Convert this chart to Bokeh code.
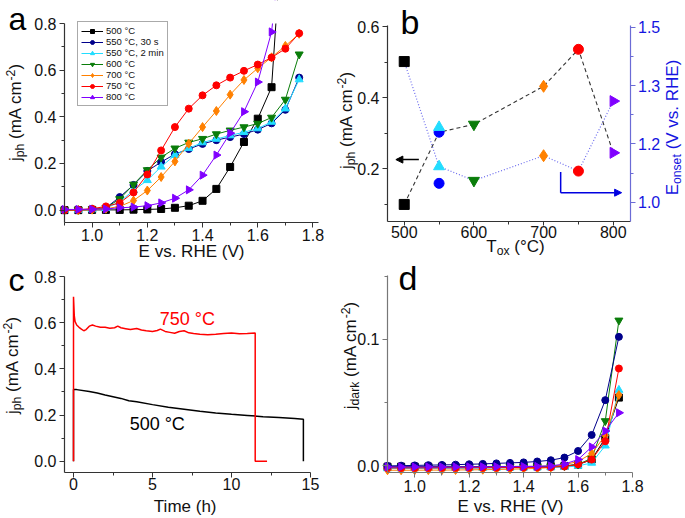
import math
from bokeh.plotting import figure
from bokeh.models import (Range1d, LinearAxis, FixedTicker, NumeralTickFormatter, Label,
                          Legend, LegendItem, Arrow, NormalHead)
from bokeh.layouts import row, column
from bokeh.embed import file_html
from bokeh.resources import INLINE

FONT = "Liberation Sans"
NaN = float("nan")

# ---------------- data ----------------
samples = ["500 °C", "550 °C, 30 s", "550 °C, 2 min", "600 °C", "700 °C", "750 °C", "800 °C"]

# panel a: photocurrent vs potential
E_a = [0.90, 0.95, 1.00, 1.05, 1.10, 1.15, 1.20, 1.25, 1.30, 1.35, 1.40, 1.45, 1.50, 1.55, 1.60, 1.65, 1.70, 1.75]
a_500 = [0.000, 0.000, 0.001, 0.001, 0.001, 0.002, 0.003, 0.005, 0.010, 0.019, 0.040, 0.091, 0.185, 0.292, 0.392, 0.527, 1.400, NaN]
a_550a = [0.000, 0.001, 0.004, 0.010, 0.056, 0.108, 0.168, 0.206, 0.240, 0.262, 0.284, 0.300, 0.313, 0.326, 0.345, 0.372, 0.430, 0.568]
a_550b = [0.000, 0.001, 0.003, 0.008, 0.035, 0.085, 0.128, 0.186, 0.236, 0.265, 0.290, 0.305, 0.320, 0.334, 0.350, 0.378, 0.435, 0.560]
a_600 = [0.000, 0.001, 0.004, 0.010, 0.048, 0.110, 0.172, 0.226, 0.265, 0.290, 0.306, 0.326, 0.342, 0.356, 0.371, 0.397, 0.474, 0.668]
a_700 = [0.000, 0.000, 0.002, 0.006, 0.016, 0.041, 0.084, 0.142, 0.209, 0.285, 0.356, 0.425, 0.495, 0.558, 0.608, 0.655, 0.704, 0.756]
a_750 = [0.000, 0.002, 0.006, 0.016, 0.031, 0.076, 0.153, 0.256, 0.356, 0.435, 0.492, 0.535, 0.568, 0.597, 0.624, 0.654, 0.692, 0.758]
a_800 = [0.003, 0.003, 0.004, 0.005, 0.010, 0.013, 0.019, 0.031, 0.051, 0.087, 0.150, 0.236, 0.330, 0.422, 0.549, 0.764, 1.300, NaN]
a_series = [a_500, a_550a, a_550b, a_600, a_700, a_750, a_800]

# panel b: j_ph (left axis) and E_onset (right axis) vs oxidation temperature
T_b = [500, 550, 550, 600, 700, 750, 800]
jph_b = [0.100, 0.303, 0.317, 0.325, 0.432, 0.536, 0.245]
Eon_b = [1.402, 1.054, 1.102, 1.062, 1.133, 1.089, 1.289]
jph_line_idx = [0, 1, 3, 4, 5, 6]
Eon_line_idx = [0, 2, 3, 4, 5, 6]
arrow_left_x = [521, 488]
arrow_left_y = [0.226, 0.226]
arrow_right_x = [724.5, 724.5, 812]
arrow_right_y = [0.191, 0.133, 0.133]

# panel c: stability
t_750 = [0, 0, 0.05, 0.1, 0.2, 0.35, 0.5, 0.65, 0.8, 1.0, 1.2, 1.4, 1.7, 2.0, 2.3, 2.6, 2.8, 3.0, 3.3, 3.6,
         4.0, 4.3, 4.6, 5.0, 5.3, 5.5, 5.8, 6.1, 6.4, 6.7, 7.0, 7.3, 7.6, 8.0, 8.5, 9.0, 9.5, 10.0, 10.5,
         11.0, 11.5, 11.5, 12.25]
j_750 = [0, 0.712, 0.630, 0.605, 0.590, 0.580, 0.572, 0.565, 0.570, 0.585, 0.590, 0.585, 0.580, 0.580,
         0.576, 0.578, 0.585, 0.578, 0.574, 0.570, 0.575, 0.568, 0.565, 0.562, 0.566, 0.572, 0.562, 0.558,
         0.554, 0.562, 0.565, 0.556, 0.553, 0.550, 0.548, 0.550, 0.553, 0.555, 0.552, 0.553, 0.555, 0.0, 0.0]
t_500 = [0, 0, 0.2, 1.0, 1.5, 2.0, 3.0, 3.5, 4.0, 5.0, 6.0, 7.0, 8.0, 9.0, 10.0, 11.0, 12.0, 13.0, 14.0, 14.55, 14.55]
j_500 = [0, 0.310, 0.310, 0.302, 0.295, 0.287, 0.272, 0.262, 0.257, 0.245, 0.234, 0.225, 0.216, 0.209,
         0.203, 0.198, 0.193, 0.189, 0.185, 0.182, 0.0]
c_text_750 = (7.2, 0.616)
c_text_500 = (5.3, 0.163)

# panel d: dark current
E_d = E_a
d_500 = [-0.0006, -0.0006, -0.0006, -0.0006, -0.0006, -0.0006, -0.0005, -0.0005, -0.0005, -0.0004, -0.0004, -0.0003, -0.0002, 0.0000, 0.0010, 0.0050, 0.0220, 0.0540]
d_550a = [0.0000, 0.0002, 0.0004, 0.0006, 0.0008, 0.0010, 0.0013, 0.0016, 0.0020, 0.0024, 0.0028, 0.0035, 0.0045, 0.0066, 0.0118, 0.0245, 0.0520, 0.1020]
d_550b = [-0.0020, -0.0020, -0.0020, -0.0019, -0.0019, -0.0018, -0.0018, -0.0017, -0.0016, -0.0015, -0.0014, -0.0013, -0.0012, -0.0010, 0.0000, 0.0024, 0.0160, 0.0600]
d_600 = [-0.0010, -0.0010, -0.0010, -0.0010, -0.0010, -0.0009, -0.0009, -0.0008, -0.0008, -0.0007, -0.0006, -0.0005, -0.0004, 0.0000, 0.0012, 0.0060, 0.0355, 0.1150]
d_700 = [-0.0034, -0.0034, -0.0034, -0.0033, -0.0033, -0.0032, -0.0031, -0.0030, -0.0028, -0.0026, -0.0023, -0.0020, -0.0012, 0.0010, 0.0035, 0.0098, 0.0240, 0.0560]
d_750 = [-0.0016, -0.0016, -0.0016, -0.0016, -0.0015, -0.0015, -0.0015, -0.0014, -0.0014, -0.0013, -0.0012, -0.0011, -0.0010, -0.0005, 0.0012, 0.0050, 0.0195, 0.0770]
d_800 = [-0.0008, -0.0008, -0.0008, -0.0008, -0.0008, -0.0008, -0.0007, -0.0007, -0.0006, -0.0006, -0.0005, -0.0004, 0.0000, 0.0015, 0.0050, 0.0150, 0.0276, 0.0420]
d_series = [d_500, d_550a, d_550b, d_600, d_700, d_750, d_800]

# ---------------- styles ----------------
colors = ["#000000", "#00008B", "#22DDFF", "#0A7D0A", "#FF8000", "#FF0000", "#8000FF"]
colors_b = ["#000000", "#0000FF", "#22DDFF", "#0A7D0A", "#FF8000", "#FF0000", "#8000FF"]
markers = ["square", "circle", "triangle", "inverted_triangle", "diamond", "circle", "triangle"]
m_angles = [0, 0, 0, 0, 0, 0, -math.pi / 2]
m_sizes = [7, 7, 8, 8, 9, 7, 8]
AX = "#333333"
TXT = "#111111"

CW = {' ': 0.278, '(': 0.333, ')': 0.333, '-': 0.333, '.': 0.278, '°': 0.4, ',': 0.278,
      'A': 0.667, 'C': 0.722, 'E': 0.667, 'H': 0.722, 'R': 0.722, 'T': 0.611, 'V': 0.667,
      'a': 0.556, 'c': 0.5, 'd': 0.556, 'e': 0.556, 'h': 0.556, 'i': 0.222, 'j': 0.222,
      'k': 0.5, 'm': 0.833, 'n': 0.556, 'o': 0.556, 'p': 0.556, 'r': 0.333, 's': 0.5,
      't': 0.278, 'v': 0.5, 'x': 0.5}


def text_w(s, size):
    return sum(CW.get(ch, 0.556) for ch in s) * size


def full_range(d0, d1, p0, p1, c0, c1):
    # data d0 sits at pixel p0 and d1 at p1; return the data values at canvas pixels c0, c1
    k = (d1 - d0) / (p1 - p0)
    return (d0 + (c0 - p0) * k, d0 + (c1 - p0) * k)


class Geo:
    def __init__(self, ox, oy, w, h):
        self.ox, self.oy, self.w, self.h = ox, oy, w, h

    def cx(self, sx):
        return sx - self.ox

    def cy(self, sy):
        return self.oy + self.h - sy


def make_fig(g, xd, xpix, yd, ypix):
    xr = full_range(xd[0], xd[1], xpix[0], xpix[1], g.ox, g.ox + g.w)
    yr = full_range(yd[0], yd[1], -ypix[0], -ypix[1], -(g.oy + g.h), -g.oy)
    p = figure(width=g.w, height=g.h, x_range=Range1d(*xr), y_range=Range1d(*yr),
               output_backend="svg", toolbar_location=None, title=None,
               min_border_left=0, min_border_right=0, min_border_top=0, min_border_bottom=0)
    p.outline_line_color = None
    p.xgrid.visible = False
    p.ygrid.visible = False
    p.background_fill_color = "white"
    p.border_fill_color = "white"
    p.xaxis[0].fixed_location = yd[0]
    p.xaxis[0].bounds = xd
    p.yaxis[0].fixed_location = xd[0]
    p.yaxis[0].bounds = yd
    return p


def rich_label(p, g, sx, sy, parts, vertical=False, color=TXT, F=17):
    # sx, sy: centre of the whole label in page pixels
    cx, cy = g.cx(sx), g.cy(sy)
    sized = []
    tot = 0.0
    for t, kind in parts:
        s = F if kind == "n" else F * 0.72
        sh = {"n": 0.0, "sub": -0.25 * F, "sup": 0.30 * F}[kind]
        sized.append((t, s, sh))
        tot += text_w(t, s)
    pos = -tot / 2
    for t, s, sh in sized:
        stripped = t.lstrip()
        pos += text_w(t[:len(t) - len(stripped)], s)
        if vertical:
            x, y, ang = cx - sh, cy + pos, math.pi / 2
        else:
            x, y, ang = cx + pos, cy + sh, 0
        p.add_layout(Label(x=x, y=y, x_units="screen", y_units="screen", text=stripped, angle=ang,
                           text_align="left", text_baseline="middle", text_font=FONT,
                           text_font_size=f"{s:.1f}px", text_color=color))
        pos += text_w(stripped, s)


def panel_letter(p, g, sx, s_base, ch, F):
    p.add_layout(Label(x=g.cx(sx), y=g.cy(s_base - 0.35 * F), x_units="screen", y_units="screen",
                       text=ch, text_font=FONT, text_font_size=f"{F}px", text_color="#000000",
                       text_align="left", text_baseline="middle"))


def style_axis(ax, ticks, minor, fmt, color=AX, label_color=TXT, standoff=3):
    ax.ticker = FixedTicker(ticks=ticks, minor_ticks=minor)
    ax.formatter = NumeralTickFormatter(format=fmt)
    ax.major_tick_in = 0
    ax.major_tick_out = 5
    ax.minor_tick_in = 0
    ax.minor_tick_out = 3
    ax.axis_line_color = color
    ax.axis_line_width = 1.2
    ax.major_tick_line_color = color
    ax.minor_tick_line_color = color
    ax.major_label_text_font = FONT
    ax.major_label_text_font_size = "16px"
    ax.major_label_text_color = label_color
    ax.major_label_standoff = standoff


jph_parts = [("j", "n"), ("ph", "sub"), (" (mA cm", "n"), ("-2", "sup"), (")", "n")]

# ---------------- panel a ----------------
ga = Geo(0, 0, 336, 261)
pa = make_fig(ga, (0.9, 1.82), (64, 318), (-0.053, 0.8), (222, 23))
style_axis(pa.xaxis[0], [1.0, 1.2, 1.4, 1.6, 1.8], [0.9, 1.1, 1.3, 1.5, 1.7], "0.0", standoff=1)
style_axis(pa.yaxis[0], [0.0, 0.2, 0.4, 0.6, 0.8], [0.1, 0.3, 0.5, 0.7], "0.0")
items = []
for i, ys in enumerate(a_series):
    lr = pa.line(E_a, ys, line_color=colors[i], line_width=1)
    sr = pa.scatter(E_a, ys, marker=markers[i], size=m_sizes[i], angle=m_angles[i],
                    fill_color=colors[i], line_color=colors[i])
    items.append(LegendItem(label=samples[i], renderers=[lr, sr]))
# white cover: hides the curve parts that run past the top of the y axis (0.8)
pa.quad(left=[0.905], right=[1.9], bottom=[0.8005], top=[0.95], fill_color="white",
        line_color=None)
leg = Legend(items=items, location=(ga.cx(77), ga.cy(106)), border_line_color="#555555",
             border_line_width=1, label_text_font=FONT, label_text_font_size="9.5px",
             label_text_color=TXT, glyph_width=22, glyph_height=10, label_height=10,
             label_standoff=3, spacing=0, padding=3, margin=0, background_fill_color="white")
pa.add_layout(leg)
rich_label(pa, ga, 15, 112, jph_parts, vertical=True)
rich_label(pa, ga, 191, 251, [("E vs. RHE (V)", "n")])
panel_letter(pa, ga, 8, 29.5, "a", 32)

# ---------------- panel b ----------------
gb = Geo(336, 0, 349, 258)
pb = make_fig(gb, (476, 824), (387, 629.5), (0.052, 0.603), (221, 25))
rr = full_range(0.945, 1.505, -221, -25, -(gb.oy + gb.h), -gb.oy)
pb.extra_y_ranges = {"right": Range1d(*rr)}
style_axis(pb.xaxis[0], [500, 600, 700, 800], [550, 650, 750], "0", standoff=0)
pb.xaxis[0].major_tick_out = 4
style_axis(pb.yaxis[0], [0.2, 0.4, 0.6], [0.1, 0.3, 0.5], "0.0")
rax = LinearAxis(y_range_name="right", fixed_location=824, bounds=(0.945, 1.505))
style_axis(rax, [1.0, 1.1667, 1.3333, 1.5], [1.0833, 1.25, 1.4167], "0.0",
           color="#6B6BD6", label_color="#1515E0")
pb.add_layout(rax, "right")
pb.line([T_b[i] for i in jph_line_idx], [jph_b[i] for i in jph_line_idx],
        line_color="#333333", line_width=1.1, line_dash="4 3")
pb.line([T_b[i] for i in Eon_line_idx], [Eon_b[i] for i in Eon_line_idx], y_range_name="right",
        line_color="#6A6AEE", line_width=1.2, line_dash="1 2")
for i in range(len(T_b)):
    sz = m_sizes[i] + 3
    pb.scatter([T_b[i]], [jph_b[i]], marker=markers[i], size=sz, angle=m_angles[i],
               fill_color=colors_b[i], line_color=colors_b[i])
    pb.scatter([T_b[i]], [Eon_b[i]], marker=markers[i], size=sz, angle=m_angles[i],
               fill_color=colors_b[i], line_color=colors_b[i], y_range_name="right")
pb.add_layout(Arrow(end=NormalHead(size=7, fill_color="black", line_color="black"),
                    x_start=arrow_left_x[0], y_start=arrow_left_y[0],
                    x_end=arrow_left_x[1], y_end=arrow_left_y[1],
                    line_color="black", line_width=1.5))
pb.add_layout(Arrow(end=None, x_start=arrow_right_x[0], y_start=arrow_right_y[0],
                    x_end=arrow_right_x[1], y_end=arrow_right_y[1],
                    line_color="#0000E0", line_width=1.5))
pb.add_layout(Arrow(end=NormalHead(size=7, fill_color="#0000E0", line_color="#0000E0"),
                    x_start=arrow_right_x[1], y_start=arrow_right_y[1],
                    x_end=arrow_right_x[2], y_end=arrow_right_y[2],
                    line_color="#0000E0", line_width=1.5))
rich_label(pb, gb, 346, 120, jph_parts, vertical=True)
rich_label(pb, gb, 672, 127, [("E", "n"), ("onset", "sub"), (" (V vs. RHE)", "n")], vertical=True,
           color="#1515E0")
rich_label(pb, gb, 515, 246, [("T", "n"), ("ox", "sub"), (" (°C)", "n")])
panel_letter(pb, gb, 400, 33, "b", 34)

# ---------------- panel c ----------------
gc = Geo(0, 261, 336, 257)
pc = make_fig(gc, (-0.57, 15), (64, 310), (-0.049, 0.8), (472, 276))
style_axis(pc.xaxis[0], [0, 5, 10, 15], [2.5, 7.5, 12.5], "0", standoff=0)
style_axis(pc.yaxis[0], [0.0, 0.2, 0.4, 0.6, 0.8], [0.1, 0.3, 0.5, 0.7], "0.0")
pc.line(t_500, j_500, line_color="#000000", line_width=1.5)
pc.line(t_750, j_750, line_color="#FF0000", line_width=1.5)
pc.add_layout(Label(x=c_text_750[0], y=c_text_750[1], text="750 °C", text_font=FONT,
                    text_font_size="18px", text_color="#FF0000", text_align="center",
                    text_baseline="middle"))
pc.add_layout(Label(x=c_text_500[0], y=c_text_500[1], text="500 °C", text_font=FONT,
                    text_font_size="18px", text_color="#000000", text_align="center",
                    text_baseline="middle"))
rich_label(pc, gc, 12, 365, jph_parts, vertical=True)
rich_label(pc, gc, 185, 506, [("Time (h)", "n")])
panel_letter(pc, gc, 8, 290.5, "c", 32)

# ---------------- panel d ----------------
gd = Geo(336, 258, 349, 260)
pd_ = make_fig(gd, (0.9, 1.8), (387, 632), (-0.0052, 0.1505), (472, 275))
style_axis(pd_.xaxis[0], [1.0, 1.2, 1.4, 1.6, 1.8], [1.1, 1.3, 1.5, 1.7], "0.0", color="#777777",
           standoff=2)
style_axis(pd_.yaxis[0], [0.0, 0.1], [0.05, 0.15], "0.0", color="#777777")
for i in [0, 2, 3, 4, 5, 1, 6]:
    ys = d_series[i]
    pd_.line(E_d, ys, line_color=colors[i], line_width=1)
    pd_.scatter(E_d, ys, marker=markers[i], size=m_sizes[i], angle=m_angles[i],
                fill_color=colors[i], line_color=colors[i])
rich_label(pd_, gd, 350, 355, [("j", "n"), ("dark", "sub"), (" (mA cm", "n"), ("-2", "sup"), (")", "n")],
           vertical=True)
rich_label(pd_, gd, 510, 506, [("E vs. RHE (V)", "n")])
panel_letter(pd_, gd, 398, 289.5, "d", 34)

layout = row(column(pa, pc), column(pb, pd_))
open("out.html", "w").write(file_html(layout, INLINE))
